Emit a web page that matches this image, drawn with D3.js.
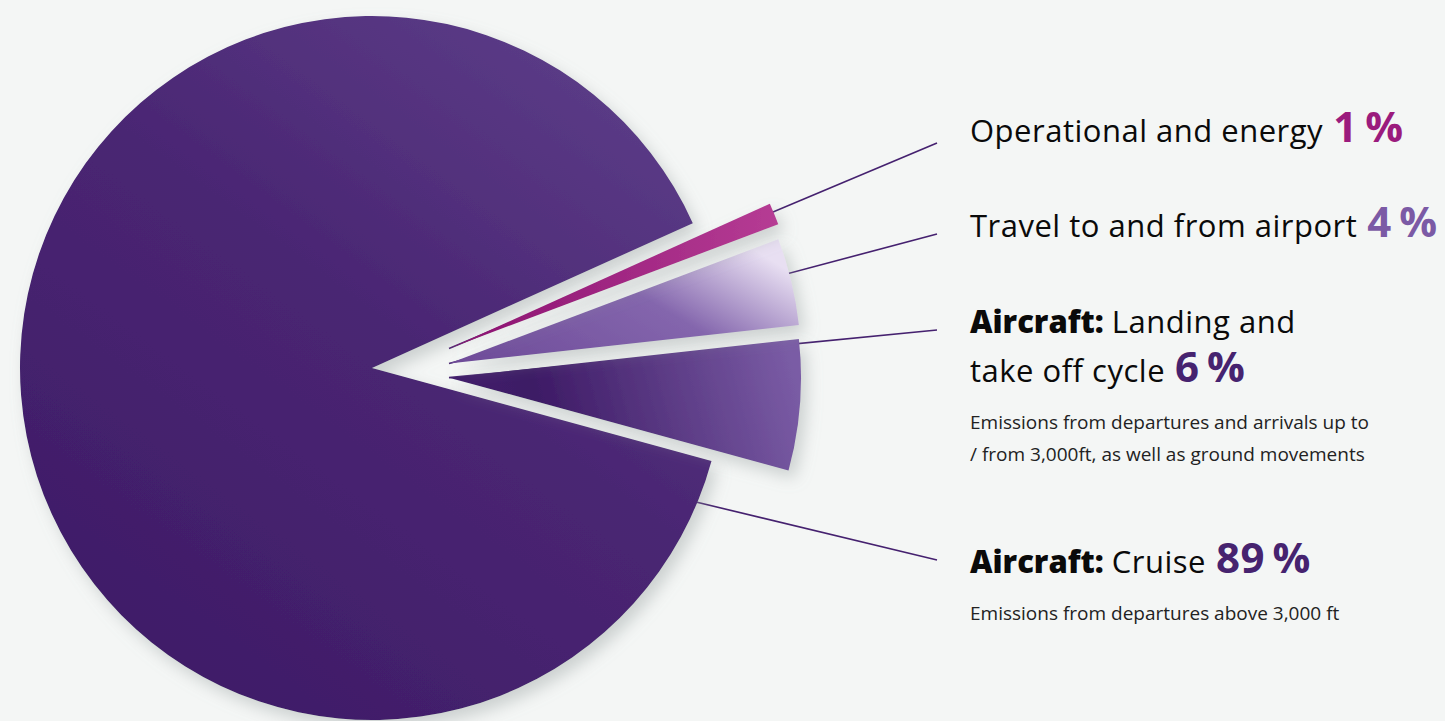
<!DOCTYPE html>
<html>
<head>
<meta charset="utf-8">
<script src="https://cdn.jsdelivr.net/npm/d3@7"></script>
<style>
html, body { margin: 0; padding: 0; background: #f4f6f5; }
svg { display: block; font-family: "Open Sans", sans-serif; }
</style>
</head>
<body>
<div id="chart"></div>
<script>
// emission sources, clockwise from the top edge of the big slice
var categories = ["Operational and energy", "Travel to and from airport", "Aircraft: Landing and take off cycle", "Aircraft: Cruise"];
var shares = [1, 4, 6, 89];
var prefixes = ["", "", "Aircraft:", "Aircraft:"];
var labelLines = [["Operational and energy"], ["Travel to and from airport"], ["Landing and", "take off cycle"], ["Cruise"]];
var notes = [[], [], ["Emissions from departures and arrivals up to", "/ from 3,000ft, as well as ground movements"], ["Emissions from departures above 3,000 ft"]];

var width = 1445, height = 721;
var cx = 372, cy = 368, R = 352;
var pctColors = ["#9b1b7d", "#7b5aa5", "#46236f", "#46236f"];
var labelY = [142, 237, 333, 573];   // first baseline of each label
var leaderY = [143, 234, 330, 560];  // where the leader meets the label column

var svg = d3.select("#chart").append("svg")
  .attr("width", width)
  .attr("height", height);

var defs = svg.append("defs");

var shadow = defs.append("filter").attr("id", "shadow")
  .attr("x", "-20%").attr("y", "-20%").attr("width", "140%").attr("height", "140%");
shadow.append("feDropShadow")
  .attr("dx", 6).attr("dy", 8).attr("stdDeviation", 8)
  .attr("flood-color", "#8f9897").attr("flood-opacity", 0.4);

function grad(id, x1, y1, x2, y2, stops) {
  var g = defs.append("linearGradient").attr("id", id)
    .attr("x1", x1).attr("y1", y1).attr("x2", x2).attr("y2", y2);
  stops.forEach(function(s) {
    g.append("stop").attr("offset", s[0]).attr("stop-color", s[1]);
  });
}
grad("g0", 0, 0.5, 1, 0.5, [[0, "#8a1170"], [1, "#b63c94"]]);
grad("g1", 0, 0.9, 1, 0.3, [[0, "#6e4b99"], [0.6, "#8466ad"], [1, "#e8dff2"]]);
grad("g2", 0, 0.5, 1, 0.4, [[0, "#42206b"], [0.25, "#3d1a65"], [1, "#7a5ca5"]]);
grad("g3", 0.85, 0.05, 0.2, 0.95, [[0, "#5c3d88"], [0.45, "#4a2673"], [1, "#3f1c68"]]);

// pie starts on the upper edge of the big slice
var start = (90 - 24.3) * Math.PI / 180;
var pie = d3.pie().sort(null).value(function(d) { return d; })
  .startAngle(start).endAngle(start + 2 * Math.PI);
var arcs = pie(shares);
var arc = d3.arc().innerRadius(0).outerRadius(R);

// small slices are pulled out to the right and kept apart by an even gap
var shift = 77, gap = 14;
var prev = [cx, cy];
arcs.forEach(function(a, i) {
  if (i == arcs.length - 1) { a.apex = [cx, cy]; return; }
  var t = a.startAngle - Math.PI / 2;
  var nx = -Math.sin(t), ny = Math.cos(t);
  var x = cx + shift;
  var y = prev[1] + (gap - (x - prev[0]) * nx) / ny;
  a.apex = [x, y];
  prev = a.apex;
});

// leader lines sit under the slices
svg.append("g").selectAll("line")
  .data(arcs)
  .enter().append("line")
  .attr("x1", 937)
  .attr("y1", function(d, i) { return leaderY[i]; })
  .attr("x2", function(d, i) {
    return i == arcs.length - 1 ? d.apex[0] + arc.centroid(d)[0] : d.apex[0];
  })
  .attr("y2", function(d, i) {
    return i == arcs.length - 1 ? d.apex[1] + arc.centroid(d)[1] : d.apex[1];
  })
  .attr("stroke", "#45216f")
  .attr("stroke-width", 1.6);

svg.append("g").selectAll("path")
  .data(arcs.slice().reverse())
  .enter().append("path")
  .attr("transform", function(d) { return "translate(" + d.apex[0] + "," + d.apex[1] + ")"; })
  .attr("d", arc)
  .attr("fill", function(d) { return "url(#g" + d.index + ")"; })
  .attr("filter", "url(#shadow)");

// labels
var labels = svg.append("g").selectAll("g")
  .data(categories)
  .enter().append("g");

labels.each(function(c, i) {
  var g = d3.select(this);
  var lines = labelLines[i];
  lines.forEach(function(line, j) {
    var t = g.append("text")
      .attr("x", 970)
      .attr("y", labelY[i] + j * 49)
      .attr("font-size", 31)
      .attr("letter-spacing", 0.5)
      .attr("fill", "#0a0a0a");
    if (j == 0 && prefixes[i]) {
      t.append("tspan").attr("font-weight", 800).attr("letter-spacing", 0).text(prefixes[i] + " ");
    }
    t.append("tspan").text(line);
    if (j == lines.length - 1) {
      t.append("tspan")
        .attr("font-size", 42)
        .attr("font-weight", 700)
        .attr("letter-spacing", 0.5)
        .attr("fill", pctColors[i])
        .attr("dx", 10)
        .text(shares[i] + "\u2009%");
    }
  });
  var last = labelY[i] + (lines.length - 1) * 49;
  notes[i].forEach(function(n, j) {
    g.append("text")
      .attr("x", 970)
      .attr("y", last + 47 + j * 32)
      .attr("font-size", 19)
      .attr("fill", "#222")
      .text(n);
  });
});
</script>
</body>
</html>
